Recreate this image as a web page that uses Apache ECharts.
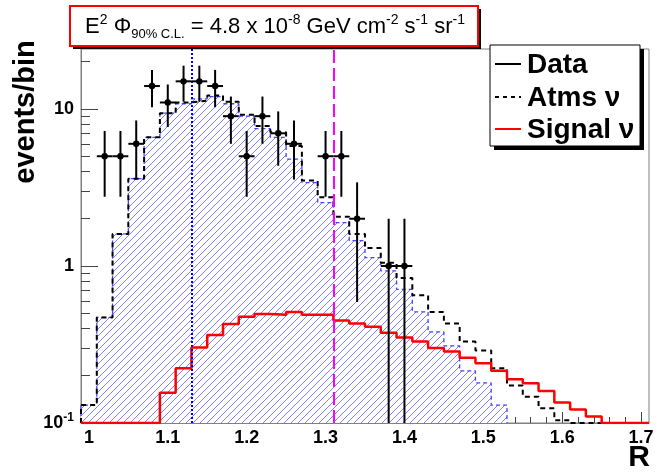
<!DOCTYPE html>
<html>
<head>
<meta charset="utf-8">
<script src="https://cdn.jsdelivr.net/npm/echarts@6/dist/echarts.min.js"></script>
<style>
  html, body { margin: 0; padding: 0; background: #fff; }
  #chart { width: 662px; height: 472px; }
</style>
</head>
<body>
<div id="chart"></div>
<script>
// Histogram bins in R (centres), each 0.02 wide
const binCenters = [1.00, 1.02, 1.04, 1.06, 1.08, 1.10, 1.12, 1.14, 1.16, 1.18,
                    1.20, 1.22, 1.24, 1.26, 1.28, 1.30, 1.32, 1.34, 1.36, 1.38,
                    1.40, 1.42, 1.44, 1.46, 1.48, 1.50, 1.52, 1.54, 1.56, 1.58,
                    1.60, 1.62, 1.64, 1.66, 1.68, 1.70];
const binHalfWidth = 0.01;

// Atmospheric neutrino expectation (dashed black outline)
const atmsNu = [0.13, 0.47, 1.6, 3.6, 6.6, 9.4, 11.0, 11.3, 12.2, 11.1,
                9.2, 7.8, 7.1, 5.8, 3.5, 2.74, 2.06, 1.6, 1.3, 1.05,
                0.84, 0.65, 0.51, 0.43, 0.33, 0.29, 0.223, 0.173, 0.147, 0.124,
                0.104, 0.09, 0.09, 0, 0, 0];

// Hatched atmospheric component (first 27 bins)
const atmsNuHatched = [0.13, 0.47, 1.6, 3.6, 6.6, 9.4, 10.8, 11.6, 12.0, 10.8,
                       9.0, 7.5, 6.6, 4.8, 3.4, 2.53, 1.89, 1.45, 1.13, 0.93,
                       0.71, 0.51, 0.38, 0.31, 0.215, 0.18, 0.13];

// Signal neutrino expectation (red)
const signalNu = [0, 0, 0, 0, 0, 0.156, 0.223, 0.303, 0.363, 0.427,
                  0.475, 0.494, 0.49, 0.51, 0.49, 0.49, 0.45, 0.43, 0.41, 0.376,
                  0.35, 0.33, 0.30, 0.285, 0.26, 0.24, 0.215, 0.19, 0.179, 0.16,
                  0.135, 0.122, 0.11, 0.1, 0, 0];

// Observed events with errors
const dataR   = [1.02, 1.04, 1.06, 1.08, 1.10, 1.12, 1.14, 1.16, 1.18, 1.20,
                 1.22, 1.24, 1.26, 1.30, 1.32, 1.34, 1.38, 1.40];
const dataN   = [5, 5, 6, 14, 11, 15, 15, 14, 9, 5, 9, 7, 6, 5, 5, 2, 1, 1];
const dataErr = [2.24, 2.24, 2.45, 3.74, 3.32, 3.87, 3.87, 3.74, 3.0, 2.24,
                 3.0, 2.65, 2.45, 2.24, 2.24, 1.41, 1.0, 1.0];

// Vertical reference lines in R
const dottedLineR = 1.13;
const cutLineR = 1.31;

// Axis ticks
const xTickLabels = [1, 1.1, 1.2, 1.3, 1.4, 1.5, 1.6, 1.7];
const xMinorTicks = [1.02, 1.04, 1.06, 1.08, 1.12, 1.14, 1.16, 1.18, 1.22, 1.24,
                     1.26, 1.28, 1.32, 1.34, 1.36, 1.38, 1.42, 1.44, 1.46, 1.48,
                     1.52, 1.54, 1.56, 1.58, 1.62, 1.64, 1.66, 1.68, 1.70];
const yTickLabels = [0.1, 1, 10];
const yMinorTicks = [0.2, 0.3, 0.4, 0.5, 0.6, 0.7, 0.8, 0.9,
                     2, 3, 4, 5, 6, 7, 8, 9, 20];

const xMin = 0.99, xMax = 1.71;
const yMin = 0.1, yMax = 24.1;

const FONT = '"Liberation Sans", Arial, Helvetica, sans-serif';

// Stepped outline of a histogram, empty bins resting on the axis floor
function stepLine(values) {
  const pts = [[binCenters[0] - binHalfWidth, yMin]];
  values.forEach((v, i) => {
    const y = Math.max(v, yMin);
    pts.push([binCenters[i] - binHalfWidth, y], [binCenters[i] + binHalfWidth, y]);
  });
  pts.push([binCenters[values.length - 1] + binHalfWidth, yMin]);
  return pts;
}

// Diagonal hatch tile
function hatchTile() {
  const T = 7;
  const c = document.createElement('canvas');
  c.width = T; c.height = T;
  const g = c.getContext('2d');
  g.fillStyle = '#ffffff';
  g.fillRect(0, 0, T, T);
  g.strokeStyle = 'rgb(130,130,255)';
  g.lineWidth = 1;
  g.beginPath();
  g.moveTo(0, T); g.lineTo(T, 0);
  g.moveTo(-1, 1); g.lineTo(1, -1);
  g.moveTo(T - 1, T + 1); g.lineTo(T + 1, T - 1);
  g.stroke();
  return c;
}

const chart = echarts.init(document.getElementById('chart'), null, { renderer: 'canvas' });

const axisGrey = '#808080';
const tickColor = '#444';

const option = {
  animation: false,
  backgroundColor: '#fff',
  grid: { left: 81, right: 13, top: 49, bottom: 49, show: true,
          borderColor: axisGrey, borderWidth: 1, backgroundColor: 'transparent' },
  xAxis: [
    {
      type: 'value', min: xMin, max: xMax, position: 'bottom',
      axisLine: { show: true, lineStyle: { color: axisGrey, width: 1 } },
      axisTick: { show: true, inside: true, length: 11, customValues: xTickLabels,
                  lineStyle: { color: tickColor, width: 1 } },
      axisLabel: { show: true, customValues: xTickLabels, margin: 6,
                   fontFamily: FONT, fontSize: 18, fontWeight: 'bold', color: '#000',
                   formatter: v => String(Math.round(v * 10) / 10) },
      splitLine: { show: false }
    },
    {
      type: 'value', min: xMin, max: xMax, position: 'bottom',
      axisLine: { show: false },
      axisTick: { show: true, inside: true, length: 6, customValues: xMinorTicks,
                  lineStyle: { color: tickColor, width: 1 } },
      axisLabel: { show: false },
      splitLine: { show: false }
    }
  ],
  yAxis: [
    {
      type: 'log', logBase: 10, min: yMin, max: yMax, position: 'left',
      axisLine: { show: true, lineStyle: { color: axisGrey, width: 1 } },
      axisTick: { show: true, inside: true, length: 17, customValues: yTickLabels,
                  lineStyle: { color: tickColor, width: 1 } },
      axisLabel: {
        show: true, customValues: yTickLabels, margin: 7,
        fontFamily: FONT, fontSize: 18, fontWeight: 'bold', color: '#000',
        formatter: v => (v < 0.5 ? '{b|10}{s|-1}' : '{b|' + Math.round(v) + '}'),
        rich: {
          b: { fontFamily: FONT, fontSize: 18, fontWeight: 'bold', color: '#000', lineHeight: 22 },
          s: { fontFamily: FONT, fontSize: 12, fontWeight: 'bold', color: '#000',
               verticalAlign: 'top', lineHeight: 14 }
        }
      },
      splitLine: { show: false }
    },
    {
      type: 'log', logBase: 10, min: yMin, max: yMax, position: 'left',
      axisLine: { show: false },
      axisTick: { show: true, inside: true, length: 9, customValues: yMinorTicks,
                  lineStyle: { color: tickColor, width: 1 } },
      axisLabel: { show: false },
      splitLine: { show: false }
    }
  ],
  series: [
    {
      name: 'hatched', type: 'line', xAxisIndex: 0, yAxisIndex: 0,
      data: stepLine(atmsNuHatched), symbol: 'none', clip: true,
      lineStyle: { color: '#4646ff', width: 1.3, type: [4, 3] },
      areaStyle: { color: { image: hatchTile(), repeat: 'repeat' }, origin: 'start', opacity: 1 },
      z: 2
    },
    {
      name: 'Atms ν', type: 'line', xAxisIndex: 0, yAxisIndex: 0,
      data: stepLine(atmsNu), symbol: 'none', clip: true,
      lineStyle: { color: '#000', width: 2, type: [5, 4] },
      z: 3
    },
    {
      name: 'Signal ν', type: 'line', xAxisIndex: 0, yAxisIndex: 0,
      data: stepLine(signalNu), symbol: 'none', clip: true,
      lineStyle: { color: '#ff0000', width: 2.5 },
      z: 4,
      markLine: {
        silent: true, symbol: 'none', label: { show: false },
        data: [
          { xAxis: dottedLineR, lineStyle: { color: '#0000ff', width: 2, type: [2, 2] } },
          { xAxis: cutLineR, lineStyle: { color: '#ff00ff', width: 2, type: [13, 5] } }
        ]
      }
    },
    {
      name: 'Data', type: 'custom', xAxisIndex: 0, yAxisIndex: 0, clip: true, z: 6,
      data: dataR.map((r, i) => [r, dataN[i], dataErr[i]]),
      renderItem: (params, api) => {
        const x = api.value(0), y = api.value(1), e = api.value(2);
        const c = api.coord([x, y]);
        const lo = api.coord([x, Math.max(y - e, yMin)]);
        const hi = api.coord([x, y + e]);
        const l = api.coord([x - binHalfWidth, y]);
        const r = api.coord([x + binHalfWidth, y]);
        const st = { stroke: '#000', lineWidth: 2 };
        return {
          type: 'group',
          children: [
            { type: 'line', shape: { x1: c[0], y1: lo[1], x2: c[0], y2: hi[1] }, style: st },
            { type: 'line', shape: { x1: l[0], y1: c[1], x2: r[0], y2: c[1] }, style: st },
            { type: 'circle', shape: { cx: c[0], cy: c[1], r: 3.2 }, style: { fill: '#000' } }
          ]
        };
      }
    }
  ],
  graphic: [
    // Axis titles
    { type: 'text', x: 26, y: 112, rotation: Math.PI / 2,
      style: { text: 'events/bin', fontFamily: FONT, fontSize: 29, fontWeight: 'bold',
               fill: '#000', align: 'center', verticalAlign: 'middle' } },
    { type: 'text', x: 639, y: 458,
      style: { text: 'R', fontFamily: FONT, fontSize: 30, fontWeight: 'bold',
               fill: '#000', align: 'center', verticalAlign: 'middle' } },
    // Flux limit box
    { type: 'rect', shape: { x: 73, y: 9, width: 408, height: 40 }, style: { fill: '#000' }, z: 10 },
    { type: 'rect', shape: { x: 70, y: 6, width: 408, height: 40 },
      style: { fill: '#fff', stroke: '#ff0000', lineWidth: 2 }, z: 11 },
    { type: 'text', x: 275, y: 27, z: 12,
      style: {
        text: '{n|E}{sup|2}{n| Φ}{sub|90% C.L.}{n| = 4.8 x 10}{sup|-8}{n| GeV cm}{sup|-2}{n| s}{sup|-1}{n| sr}{sup|-1}',
        align: 'center', verticalAlign: 'middle',
        rich: {
          n:   { fontFamily: FONT, fontSize: 22, fill: '#000', lineHeight: 28, verticalAlign: 'middle' },
          sup: { fontFamily: FONT, fontSize: 14, fill: '#000', lineHeight: 16, verticalAlign: 'top' },
          sub: { fontFamily: FONT, fontSize: 13, fill: '#000', lineHeight: 15, verticalAlign: 'bottom' }
        }
      } },
    // Legend
    { type: 'rect', shape: { x: 494, y: 49, width: 150, height: 101 }, style: { fill: '#000' }, z: 10 },
    { type: 'rect', shape: { x: 490, y: 45, width: 150, height: 101 },
      style: { fill: '#fff', stroke: '#000', lineWidth: 1 }, z: 11 },
    { type: 'line', shape: { x1: 495, y1: 64, x2: 521, y2: 64 }, style: { stroke: '#000', lineWidth: 2 }, z: 12 },
    { type: 'line', shape: { x1: 495, y1: 97, x2: 521, y2: 97 }, style: { stroke: '#000', lineWidth: 2, lineDash: [4, 4] }, z: 12 },
    { type: 'line', shape: { x1: 495, y1: 129, x2: 521, y2: 129 }, style: { stroke: '#ff0000', lineWidth: 2 }, z: 12 },
    { type: 'text', x: 527, y: 65, z: 12,
      style: { text: 'Data', fontFamily: FONT, fontSize: 28, fontWeight: 'bold', fill: '#000', verticalAlign: 'middle' } },
    { type: 'text', x: 527, y: 98, z: 12,
      style: { text: 'Atms ν', fontFamily: FONT, fontSize: 28, fontWeight: 'bold', fill: '#000', verticalAlign: 'middle' } },
    { type: 'text', x: 527, y: 130, z: 12,
      style: { text: 'Signal ν', fontFamily: FONT, fontSize: 28, fontWeight: 'bold', fill: '#000', verticalAlign: 'middle' } }
  ]
};

chart.setOption(option);
</script>
</body>
</html>
